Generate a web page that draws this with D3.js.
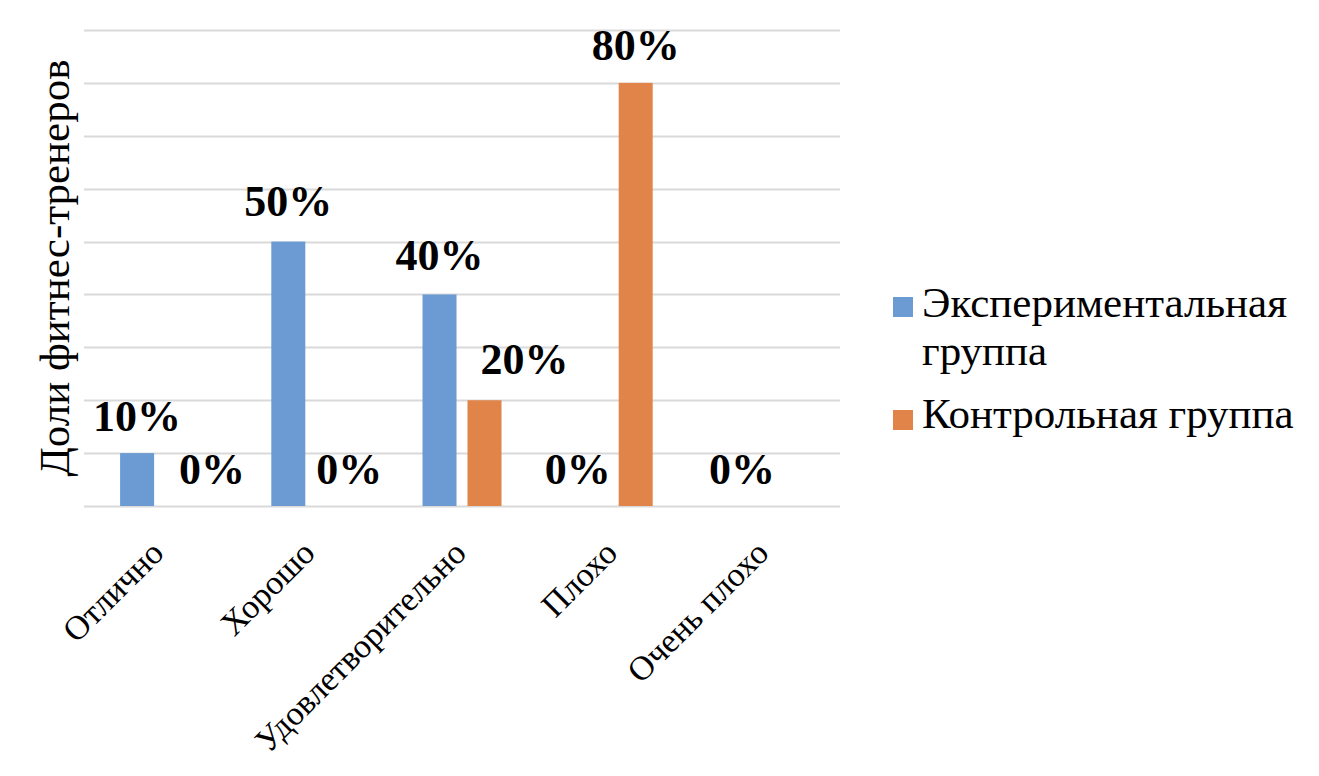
<!DOCTYPE html>
<html><head><meta charset="utf-8">
<script src="https://cdn.jsdelivr.net/npm/d3@7"></script>
<style>body{margin:0;background:#fff}svg{display:block}text{font-family:"Liberation Serif","Times New Roman",serif}</style>
</head><body><svg id="c" width="1319" height="776"></svg>
<script>
const categories = ["Отлично","Хорошо","Удовлетворительно","Плохо","Очень плохо"];
const seriesNames = ["Экспериментальная группа","Контрольная группа"];
const experimental = [0.10,0.50,0.40,0.00,0.00];
const control = [0.00,0.00,0.20,0.80,0.00];
const yTicks = [0,0.1,0.2,0.3,0.4,0.5,0.6,0.7,0.8,0.9];
const yTitle = "Доли фитнес-тренеров";

// label placement tweaks (style, not data)
const labelDx = [[0,0,0,-13,0],[30,16,40,0,null]];
const labelDy = [[-22,-26,-24,-22,-22],[-22,-22,-26,-23,-22]];
const colors = ["#6b9bd2","#e0844a"];

const svg = d3.select("#c");
const pLeft=84,pRight=840,pTop=30,pBottom=506;
const x = d3.scaleBand().domain(categories).range([pLeft,pRight]).padding(0);
const y = d3.scaleLinear().domain([0,0.9]).range([pBottom,pTop]);
const groupW = 79;
const x1 = d3.scaleBand().domain([0,1]).range([-groupW/2,groupW/2]).paddingInner(0.244).paddingOuter(0);

svg.append("g").selectAll("line").data(yTicks).join("line")
  .attr("x1",pLeft).attr("x2",pRight)
  .attr("y1",d=>Math.round(y(d))+0.5).attr("y2",d=>Math.round(y(d))+0.5)
  .attr("stroke","#d9d9d9").attr("stroke-width",2);

const data = [experimental, control];
data.forEach((vals,si)=>{
  const g = svg.append("g");
  g.selectAll("rect").data(vals.map((v,i)=>({v,c:categories[i]}))).join("rect")
    .attr("x",d=>x(d.c)+x.bandwidth()/2+x1(si))
    .attr("width",x1.bandwidth())
    .attr("y",d=>y(d.v)).attr("height",d=>pBottom-y(d.v))
    .attr("fill",colors[si]);
  g.selectAll("text").data(vals.map((v,i)=>({v,c:categories[i],i})).filter(d=>labelDx[si][d.i]!==null)).join("text")
    .attr("x",d=>x(d.c)+x.bandwidth()/2+x1(si)+x1.bandwidth()/2+labelDx[si][d.i])
    .attr("y",d=>y(d.v)+labelDy[si][d.i])
    .attr("text-anchor","middle").attr("font-weight","bold").attr("font-size",44)
    .text(d=>d3.format(".0%")(d.v));
});

// category labels
svg.append("g").selectAll("text").data(categories).join("text")
  .attr("transform",d=>`translate(${x(d)+x.bandwidth()/2+6},${555}) rotate(-45)`)
  .attr("text-anchor","end").attr("font-size",34)
  .text(d=>d);

// y title
svg.append("text").attr("transform",`translate(69,268) rotate(-90)`)
  .attr("text-anchor","middle").attr("font-size",43).text(yTitle);

// legend
const lg = svg.append("g");
lg.append("rect").attr("x",893).attr("y",297).attr("width",20).attr("height",20).attr("fill",colors[0]);
lg.append("text").attr("x",922).attr("y",317).attr("font-size",43).text("Экспериментальная");
lg.append("text").attr("x",922).attr("y",365).attr("font-size",43).text("группа");
lg.append("rect").attr("x",893).attr("y",410).attr("width",20).attr("height",20).attr("fill",colors[1]);
lg.append("text").attr("x",922).attr("y",428).attr("font-size",43).text(seriesNames[1]);
</script></body></html>
